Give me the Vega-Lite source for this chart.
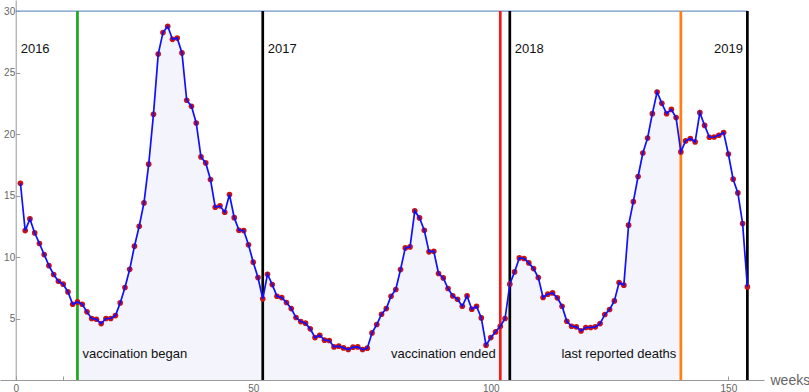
{
  "$schema": "https://vega.github.io/schema/vega-lite/v6.json",
  "autosize": {"type": "none"},
  "width": 764,
  "height": 380,
  "padding": {"left": 0, "top": 0, "right": 45, "bottom": 12},
  "background": "white",
  "config": {"view": {"stroke": null}, "font": "Liberation Sans"},
  "datasets": {
    "series": [
      {"week": 1, "value": 16.0}, {"week": 2, "value": 12.15}, {"week": 3, "value": 13.1}, {"week": 4, "value": 11.96},
      {"week": 5, "value": 11.1}, {"week": 6, "value": 10.2}, {"week": 7, "value": 9.3}, {"week": 8, "value": 8.58},
      {"week": 9, "value": 8.03}, {"week": 10, "value": 7.79}, {"week": 11, "value": 7.16}, {"week": 12, "value": 6.16},
      {"week": 13, "value": 6.35}, {"week": 14, "value": 6.16}, {"week": 15, "value": 5.54}, {"week": 16, "value": 5.0},
      {"week": 17, "value": 4.94}, {"week": 18, "value": 4.59}, {"week": 19, "value": 5.0}, {"week": 20, "value": 5.0},
      {"week": 21, "value": 5.24}, {"week": 22, "value": 6.27}, {"week": 23, "value": 7.52}, {"week": 24, "value": 9.0},
      {"week": 25, "value": 10.88}, {"week": 26, "value": 12.5}, {"week": 27, "value": 14.4}, {"week": 28, "value": 17.55},
      {"week": 29, "value": 21.6}, {"week": 30, "value": 26.5}, {"week": 31, "value": 28.25}, {"week": 32, "value": 28.76},
      {"week": 33, "value": 27.7}, {"week": 34, "value": 27.8}, {"week": 35, "value": 26.6}, {"week": 36, "value": 22.75},
      {"week": 37, "value": 22.26}, {"week": 38, "value": 20.9}, {"week": 39, "value": 18.14}, {"week": 40, "value": 17.65},
      {"week": 41, "value": 16.3}, {"week": 42, "value": 14.05}, {"week": 43, "value": 14.16}, {"week": 44, "value": 13.64},
      {"week": 45, "value": 15.08}, {"week": 46, "value": 13.2}, {"week": 47, "value": 12.18}, {"week": 48, "value": 12.15},
      {"week": 49, "value": 11.0}, {"week": 50, "value": 9.58}, {"week": 51, "value": 8.33}, {"week": 52, "value": 6.6},
      {"week": 53, "value": 8.6}, {"week": 54, "value": 7.76}, {"week": 55, "value": 6.81}, {"week": 56, "value": 6.7},
      {"week": 57, "value": 6.3}, {"week": 58, "value": 5.81}, {"week": 59, "value": 5.08}, {"week": 60, "value": 4.75},
      {"week": 61, "value": 4.62}, {"week": 62, "value": 4.16}, {"week": 63, "value": 3.45}, {"week": 64, "value": 3.64},
      {"week": 65, "value": 3.24}, {"week": 66, "value": 3.21}, {"week": 67, "value": 2.69}, {"week": 68, "value": 2.75},
      {"week": 69, "value": 2.61}, {"week": 70, "value": 2.48}, {"week": 71, "value": 2.67}, {"week": 72, "value": 2.69},
      {"week": 73, "value": 2.48}, {"week": 74, "value": 2.59}, {"week": 75, "value": 3.83}, {"week": 76, "value": 4.51},
      {"week": 77, "value": 5.35}, {"week": 78, "value": 5.81}, {"week": 79, "value": 6.81}, {"week": 80, "value": 7.36},
      {"week": 81, "value": 8.98}, {"week": 82, "value": 10.74}, {"week": 83, "value": 10.82}, {"week": 84, "value": 13.75},
      {"week": 85, "value": 13.18}, {"week": 86, "value": 12.18}, {"week": 87, "value": 10.42}, {"week": 88, "value": 10.47},
      {"week": 89, "value": 8.66}, {"week": 90, "value": 8.3}, {"week": 91, "value": 7.44}, {"week": 92, "value": 6.84},
      {"week": 93, "value": 6.57}, {"week": 94, "value": 6.0}, {"week": 95, "value": 6.84}, {"week": 96, "value": 5.76},
      {"week": 97, "value": 6.0}, {"week": 98, "value": 5.05}, {"week": 99, "value": 2.83}, {"week": 100, "value": 3.45},
      {"week": 101, "value": 3.91}, {"week": 102, "value": 4.37}, {"week": 103, "value": 5.0}, {"week": 104, "value": 7.79},
      {"week": 105, "value": 8.79}, {"week": 106, "value": 9.93}, {"week": 107, "value": 9.88}, {"week": 108, "value": 9.52},
      {"week": 109, "value": 9.06}, {"week": 110, "value": 8.33}, {"week": 111, "value": 6.71}, {"week": 112, "value": 6.98},
      {"week": 113, "value": 7.08}, {"week": 114, "value": 6.68}, {"week": 115, "value": 6.0}, {"week": 116, "value": 4.78},
      {"week": 117, "value": 4.37}, {"week": 118, "value": 4.32}, {"week": 119, "value": 3.99}, {"week": 120, "value": 4.27},
      {"week": 121, "value": 4.27}, {"week": 122, "value": 4.32}, {"week": 123, "value": 4.59}, {"week": 124, "value": 5.33},
      {"week": 125, "value": 5.73}, {"week": 126, "value": 6.43}, {"week": 127, "value": 7.93}, {"week": 128, "value": 7.71},
      {"week": 129, "value": 12.59}, {"week": 130, "value": 14.5}, {"week": 131, "value": 16.55}, {"week": 132, "value": 18.46},
      {"week": 133, "value": 19.68}, {"week": 134, "value": 21.66}, {"week": 135, "value": 23.42}, {"week": 136, "value": 22.5},
      {"week": 137, "value": 21.66}, {"week": 138, "value": 22.0}, {"week": 139, "value": 21.34}, {"week": 140, "value": 18.55},
      {"week": 141, "value": 19.44}, {"week": 142, "value": 19.63}, {"week": 143, "value": 19.36}, {"week": 144, "value": 21.74},
      {"week": 145, "value": 20.7}, {"week": 146, "value": 19.74}, {"week": 147, "value": 19.76}, {"week": 148, "value": 19.9},
      {"week": 149, "value": 20.12}, {"week": 150, "value": 18.38}, {"week": 151, "value": 16.33}, {"week": 152, "value": 15.21},
      {"week": 153, "value": 12.72}, {"week": 154, "value": 7.57}
    ],
    "markers": [
      {"week": 13, "kind": "began"},
      {"week": 52, "kind": "year"},
      {"week": 102, "kind": "ended"},
      {"week": 104, "kind": "year"},
      {"week": 140, "kind": "deaths"},
      {"week": 154, "kind": "year"}
    ],
    "notes": [
      {"week": 0, "level": 26.6, "text": "2016", "side": "after"},
      {"week": 52, "level": 26.6, "text": "2017", "side": "after"},
      {"week": 104, "level": 26.6, "text": "2018", "side": "after"},
      {"week": 154, "level": 26.6, "text": "2019", "side": "before"},
      {"week": 13, "level": 1.75, "text": "vaccination began", "side": "after"},
      {"week": 102, "level": 1.75, "text": "vaccination ended", "side": "before"},
      {"week": 140, "level": 1.75, "text": "last reported deaths", "side": "before"}
    ],
    "ceiling": [{"start": 0, "end": 154, "level": 30}]
  },
  "layer": [
    {
      "data": {"name": "series"},
      "transform": [{"filter": "datum.week >= 13 && datum.week <= 140"}],
      "mark": {"type": "area", "color": "#f4f4fc", "opacity": 1},
      "encoding": {
        "x": {
          "field": "week", "type": "quantitative",
          "scale": {"domain": [-3.3, 157.5], "nice": false, "zero": false},
          "axis": {
            "values": [0, 10, 20, 30, 40, 50, 60, 70, 80, 90, 100, 110, 120, 130, 140, 150],
            "labelExpr": "datum.value % 50 === 0 ? datum.label : ''",
            "grid": false, "domainColor": "#999999", "tickColor": "#999999", "tickSize": -4,
            "labelPadding": 7, "labelFontSize": 10, "labelColor": "#666666", "labelFont": "Liberation Sans",
            "title": "weeks", "titleX": 770, "titleY": 0, "titleAlign": "left", "titleBaseline": "middle",
            "titleAngle": 0, "titleFontWeight": "normal", "titleFontSize": 14, "titleColor": "#666666", "titleFont": "Liberation Sans"
          }
        },
        "y": {
          "field": "value", "type": "quantitative",
          "scale": {"domain": [0, 30.9], "nice": false},
          "axis": {
            "values": [5, 10, 15, 20, 25, 30], "offset": -15.7,
            "grid": false, "domainColor": "#999999", "tickColor": "#999999", "tickSize": -4,
            "labelPadding": 5, "labelFontSize": 10, "labelColor": "#666666", "labelFont": "Liberation Sans",
            "title": null
          }
        }
      }
    },
    {
      "data": {"name": "ceiling"},
      "mark": {"type": "rule", "color": "#7394c6", "strokeWidth": 1.3},
      "encoding": {
        "x": {"field": "start", "type": "quantitative"},
        "x2": {"field": "end"},
        "y": {"field": "level", "type": "quantitative"}
      }
    },
    {
      "data": {"name": "markers"},
      "mark": {"type": "rule", "strokeWidth": 2.7},
      "encoding": {
        "x": {"field": "week", "type": "quantitative"},
        "y": {"datum": 0, "type": "quantitative"},
        "y2": {"datum": 30},
        "color": {
          "field": "kind", "type": "nominal",
          "scale": {"domain": ["began", "year", "ended", "deaths"], "range": ["#1fa51f", "#000000", "#f51a1a", "#ff8011"]},
          "legend": null
        }
      }
    },
    {
      "data": {"name": "series"},
      "mark": {"type": "point", "filled": true, "color": "#c81414", "opacity": 1, "size": 32},
      "encoding": {
        "x": {"field": "week", "type": "quantitative"},
        "y": {"field": "value", "type": "quantitative"}
      }
    },
    {
      "data": {"name": "series"},
      "mark": {"type": "line", "color": "#1010ff", "strokeWidth": 1.7},
      "encoding": {
        "x": {"field": "week", "type": "quantitative"},
        "y": {"field": "value", "type": "quantitative"}
      }
    },
    {
      "data": {"name": "notes"},
      "transform": [{"filter": "datum.side === 'after'"}],
      "mark": {"type": "text", "align": "left", "baseline": "alphabetic", "dx": 5, "fontSize": 13, "font": "Liberation Sans", "color": "#111111"},
      "encoding": {
        "x": {"field": "week", "type": "quantitative"},
        "y": {"field": "level", "type": "quantitative"},
        "text": {"field": "text"}
      }
    },
    {
      "data": {"name": "notes"},
      "transform": [{"filter": "datum.side === 'before'"}],
      "mark": {"type": "text", "align": "right", "baseline": "alphabetic", "dx": -4.5, "fontSize": 13, "font": "Liberation Sans", "color": "#111111"},
      "encoding": {
        "x": {"field": "week", "type": "quantitative"},
        "y": {"field": "level", "type": "quantitative"},
        "text": {"field": "text"}
      }
    }
  ]
}
